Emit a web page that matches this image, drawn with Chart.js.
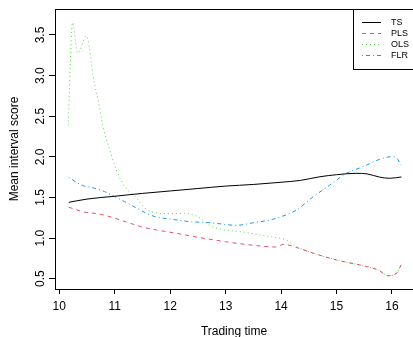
<!DOCTYPE html>
<html>
<head>
<meta charset="utf-8">
<script src="https://cdn.jsdelivr.net/npm/chart.js@4.4.0/dist/chart.umd.min.js"></script>
<style>
  html, body { margin: 0; padding: 0; background: #fff; overflow: hidden; }
  #wrap { width: 413px; height: 337px; }
</style>
</head>
<body>
<div id="wrap"><canvas id="chart" width="413" height="337"></canvas></div>
<script>
// data
const seriesNames = ["TS", "PLS", "OLS", "FLR"];

const tsX = [10.17, 10.5, 11, 11.5, 12, 12.5, 13, 13.5, 14, 14.35, 14.7, 15, 15.35, 15.55, 15.78, 15.96, 16.17];
const tsY = [1.44, 1.48, 1.515, 1.55, 1.58, 1.61, 1.64, 1.66, 1.687, 1.71, 1.755, 1.78, 1.797, 1.79, 1.75, 1.736, 1.752];

const plsX = [10.17, 10.45, 10.7, 10.95, 11.2, 11.5, 11.75, 12.05, 12.5, 13, 13.5, 13.9, 14.05, 14.3, 14.5, 15, 15.5, 15.75, 15.93, 16.08, 16.17];
const plsY = [1.38, 1.32, 1.30, 1.255, 1.20, 1.135, 1.10, 1.066, 1.01, 0.955, 0.911, 0.89, 0.923, 0.88, 0.832, 0.73, 0.656, 0.607, 0.537, 0.566, 0.677];

const olsX = [10.16, 10.24, 10.33, 10.49, 10.55, 10.61, 10.7, 10.79, 10.91, 11.03, 11.18, 11.37, 11.55, 11.73, 12, 12.24, 12.42, 12.54, 12.7, 12.9, 13.26, 13.56, 13.8, 14.1, 14.3, 14.5, 15, 15.5, 15.75, 15.93, 16.08, 16.17];
const olsY = [2.39, 3.654, 3.275, 3.488, 3.315, 2.987, 2.70, 2.371, 2.084, 1.838, 1.633, 1.51, 1.367, 1.312, 1.30, 1.305, 1.284, 1.244, 1.16, 1.112, 1.079, 1.047, 1.017, 0.976, 0.89, 0.832, 0.73, 0.656, 0.607, 0.537, 0.566, 0.677];

const flrX = [10.17, 10.4, 10.64, 10.82, 11, 11.18, 11.37, 11.55, 11.73, 12.03, 12.36, 12.72, 13.2, 13.5, 13.8, 14, 14.28, 14.58, 14.88, 15.18, 15.48, 15.78, 15.99, 16.09, 16.16];
const flrY = [1.748, 1.653, 1.613, 1.571, 1.509, 1.448, 1.379, 1.313, 1.263, 1.231, 1.202, 1.189, 1.157, 1.189, 1.223, 1.263, 1.346, 1.509, 1.653, 1.798, 1.879, 1.97, 2.002, 1.982, 1.90];

const xTicks = [10, 11, 12, 13, 14, 15, 16];
const yTicks = [0.5, 1.0, 1.5, 2.0, 2.5, 3.0, 3.5];

const FONT = "'Liberation Sans', Arial, Helvetica, sans-serif";
const colors = ["#000000", "#DF536B", "#61D04F", "#2297E6"];
const dashes = [[], [4, 4], [1, 3], [1, 3, 4, 3]];

function toPoints(xs, ys) {
    return xs.map((x, i) => ({ x: x, y: ys[i] }));
}

const allX = [tsX, plsX, olsX, flrX];
const allY = [tsY, plsY, olsY, flrY];

const datasets = seriesNames.map((name, i) => ({
    label: name,
    data: toPoints(allX[i], allY[i]),
    borderColor: colors[i],
    borderWidth: 1,
    borderDash: dashes[i],
    pointRadius: 0,
    showLine: true,
    fill: false,
    cubicInterpolationMode: "monotone"
}));

// top edge of the R style box
const boxPlugin = {
    id: "box",
    afterDraw(chart) {
        const ctx = chart.ctx;
        const a = chart.chartArea;
        ctx.save();
        ctx.strokeStyle = "#000";
        ctx.lineWidth = 1;
        ctx.beginPath();
        ctx.moveTo(a.left, Math.round(a.top) + 0.5);
        ctx.lineTo(a.right + 5, Math.round(a.top) + 0.5);
        ctx.stroke();
        ctx.restore();
    }
};

// legend in the top right corner, inside the plot
const legendPlugin = {
    id: "rLegend",
    afterDraw(chart) {
        const ctx = chart.ctx;
        const a = chart.chartArea;
        const left = a.right - 60;
        const top = Math.round(a.top);
        ctx.save();
        ctx.fillStyle = "#fff";
        ctx.fillRect(left, top, 70, 60);
        ctx.strokeStyle = "#000";
        ctx.lineWidth = 1;
        ctx.strokeRect(left + 0.5, top + 0.5, 70, 60);
        ctx.font = "9px " + FONT;
        ctx.textBaseline = "middle";
        ctx.textAlign = "left";
        chart.data.datasets.forEach((ds, i) => {
            const y = top + 13.5 + i * 11;
            ctx.strokeStyle = ds.borderColor;
            ctx.setLineDash(ds.borderDash);
            ctx.beginPath();
            ctx.moveTo(left + 9, y);
            ctx.lineTo(left + 28, y);
            ctx.stroke();
            ctx.setLineDash([]);
            ctx.fillStyle = "#000";
            ctx.fillText(ds.label, left + 38, y + 0.5);
        });
        ctx.restore();
    }
};

new Chart(document.getElementById("chart"), {
    type: "scatter",
    data: { datasets: datasets },
    plugins: [boxPlugin, legendPlugin],
    options: {
        responsive: false,
        animation: false,
        events: [],
        layout: { padding: { top: 9, right: 0, left: 0, bottom: 0 } },
        plugins: {
            legend: { display: false },
            tooltip: { enabled: false }
        },
        scales: {
            x: {
                type: "linear",
                min: 9.9225,
                max: 16.379,
                afterBuildTicks: s => { s.ticks = xTicks.map(v => ({ value: v })); },
                afterFit: s => { s.height = 48; },
                ticks: {
                    color: "#000",
                    font: { family: FONT, size: 12 },
                    padding: 5,
                    maxRotation: 0,
                    autoSkip: false,
                    callback: v => String(v)
                },
                grid: { drawOnChartArea: false, drawTicks: true, tickLength: 5, color: "#000" },
                border: { display: true, color: "#000", width: 1 },
                title: {
                    display: true,
                    text: "Trading time",
                    color: "#000",
                    font: { family: FONT, size: 12 },
                    padding: { top: 0, bottom: -2 }
                }
            },
            y: {
                type: "linear",
                min: 0.373,
                max: 3.82,
                afterBuildTicks: s => { s.ticks = yTicks.map(v => ({ value: v })); },
                afterFit: s => { s.width = 55; },
                ticks: {
                    color: "#000",
                    font: { family: FONT, size: 12 },
                    padding: 0,
                    minRotation: 90,
                    maxRotation: 90,
                    crossAlign: "center",
                    autoSkip: false,
                    callback: v => v.toFixed(1)
                },
                grid: { drawOnChartArea: false, drawTicks: true, tickLength: 6, color: "#000" },
                border: { display: true, color: "#000", width: 1 },
                title: {
                    display: true,
                    text: "Mean interval score",
                    color: "#000",
                    font: { family: FONT, size: 12 },
                    padding: { top: 7, bottom: 0 }
                }
            }
        }
    }
});
</script>
</body>
</html>
